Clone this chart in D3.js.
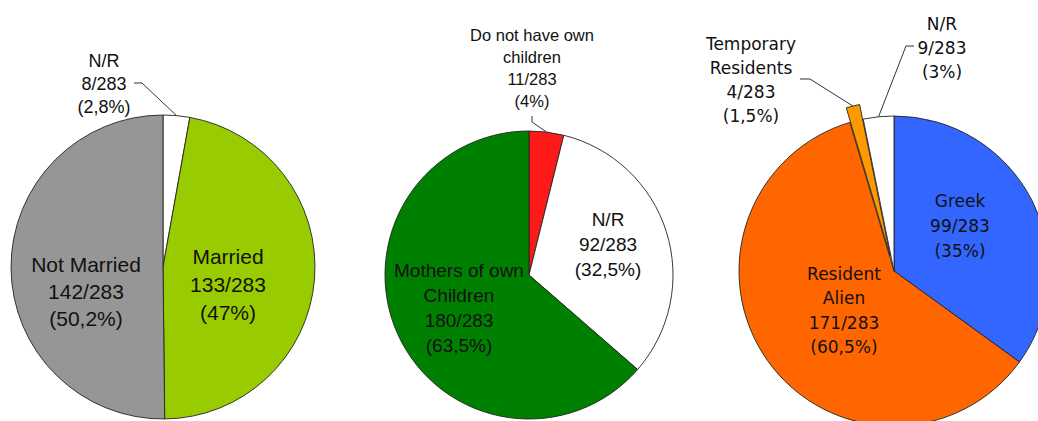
<!DOCTYPE html>
<html>
<head>
<meta charset="utf-8">
<script src="https://cdn.jsdelivr.net/npm/d3@7"></script>
<style>
  html, body { margin: 0; padding: 0; background: #fff; }
  svg { display: block; }
</style>
</head>
<body>
<div id="chart"></div>
<script>
// ---- data ----
const maritalNames  = [["N/R"], ["Married"], ["Not Married"]];
const maritalValues = [8, 133, 142];
const maritalPct    = ["2,8%", "47%", "50,2%"];
const maritalColors = ["#ffffff", "#99cc00", "#969696"];

const childNames  = [["Do not have own", "children"], ["N/R"], ["Mothers of own", "Children"]];
const childValues = [11, 92, 180];
const childPct    = ["4%", "32,5%", "63,5%"];
const childColors = ["#ff1a1a", "#ffffff", "#008000"];

const statusNames  = [["Greek"], ["Resident", "Alien"], ["Temporary", "Residents"], ["N/R"]];
const statusValues = [99, 171, 4, 9];
const statusPct    = ["35%", "60,5%", "1,5%", "3%"];
const statusColors = ["#3366ff", "#ff6600", "#ff9900", "#ffffff"];

const TOTAL = 283;

// ---- layout (label anchors, leader lines) ----
const pies = [
  {
    names: maritalNames, values: maritalValues, pct: maritalPct, colors: maritalColors,
    cx: 163, cy: 267, r: 152, font: "Liberation Sans, Arial, sans-serif",
    labels: [
      { x: 104, y: 67,  size: 18, lh: 23, leader: [[134, 83], [142, 83]] },
      { x: 228, y: 264, size: 21, lh: 28 },
      { x: 86,  y: 272, size: 21, lh: 27 }
    ]
  },
  {
    names: childNames, values: childValues, pct: childPct, colors: childColors,
    cx: 529, cy: 275, r: 144, font: "Liberation Sans, Arial, sans-serif",
    labels: [
      { x: 532, y: 41,  size: 16.5, lh: 22, leader: [[532, 116], [532, 122]] },
      { x: 608, y: 226, size: 19, lh: 25 },
      { x: 459, y: 277, size: 19, lh: 25 }
    ]
  },
  {
    names: statusNames, values: statusValues, pct: statusPct, colors: statusColors,
    cx: 894, cy: 271, r: 155, font: "DejaVu Sans, Verdana, sans-serif",
    explode: [0, 0, 15, 0],
    labels: [
      { x: 960, y: 207, size: 17, lh: 25 },
      { x: 844, y: 280, size: 17, lh: 24.3 },
      { x: 751, y: 50,  size: 17, lh: 24, leader: [[800, 79], [810, 79]] },
      { x: 942, y: 30,  size: 17, lh: 24, leader: [[914, 46], [906, 46]] }
    ]
  }
];

const width = 1038, height = 421;

const svg = d3.select("#chart").append("svg")
  .attr("width", width)
  .attr("height", height);

pies.forEach(p => {
  const pie = d3.pie().sort(null).value(d => d)(p.values);
  const arc = d3.arc().innerRadius(0).outerRadius(p.r);

  const g = svg.append("g")
    .attr("transform", `translate(${p.cx},${p.cy})`);

  // slices
  g.selectAll("path")
    .data(pie)
    .join("path")
      .attr("transform", (d, i) => {
        const off = p.explode ? p.explode[i] : 0;
        const a = (d.startAngle + d.endAngle) / 2;
        return `translate(${off * Math.sin(a)},${-off * Math.cos(a)})`;
      })
      .attr("d", arc)
      .attr("fill", (d, i) => p.colors[i])
      .attr("stroke", "#222")
      .attr("stroke-width", 0.9)
      .attr("stroke-linejoin", "round");

  // leader lines
  pie.forEach((d, i) => {
    const lab = p.labels[i];
    if (!lab.leader) return;
    const off = p.explode ? p.explode[i] : 0;
    const a = (d.startAngle + d.endAngle) / 2;
    const rr = p.r + off;
    const end = [p.cx + rr * Math.sin(a), p.cy - rr * Math.cos(a)];
    svg.append("path")
      .attr("d", d3.line()([...lab.leader, end]))
      .attr("fill", "none")
      .attr("stroke", "#333")
      .attr("stroke-width", 1);
  });

  // labels
  pie.forEach((d, i) => {
    const lab = p.labels[i];
    const lines = [...p.names[i], `${p.values[i]}/${TOTAL}`, `(${p.pct[i]})`];
    const t = svg.append("text")
      .attr("font-family", p.font)
      .attr("font-size", lab.size)
      .attr("fill", "#111")
      .attr("text-anchor", "middle");
    lines.forEach((s, k) => {
      t.append("tspan")
        .attr("x", lab.x)
        .attr("y", lab.y + k * lab.lh)
        .text(s);
    });
  });
});
</script>
</body>
</html>
